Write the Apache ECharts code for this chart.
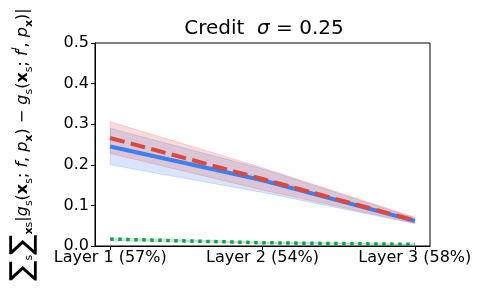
<!DOCTYPE html>
<html>
<head>
<meta charset="utf-8">
<script src="https://cdn.jsdelivr.net/npm/echarts@6/dist/echarts.min.js"></script>
<style>html,body{margin:0;padding:0;background:#fff}#c{width:488px;height:293px}</style>
</head>
<body>
<div id="c"></div>
<script>
const categories = ['Layer 1 (57%)', 'Layer 2 (54%)', 'Layer 3 (58%)'];
const yTicks = [0.0, 0.1, 0.2, 0.3, 0.4, 0.5];
const blueMean = [0.245, 0.162, 0.062];
const blueLow  = [0.200, 0.132, 0.055];
const blueHigh = [0.290, 0.190, 0.069];
const redMean  = [0.266, 0.165, 0.063];
const redLow   = [0.228, 0.138, 0.056];
const redHigh  = [0.306, 0.193, 0.071];
const greenMean = [0.017, 0.008, 0.004];
const greenLow  = [0.014, 0.006, 0.003];
const greenHigh = [0.020, 0.010, 0.005];

const xs = categories.map((c, i) => i);
const pts = arr => arr.map((v, i) => [i, v]);

function band(low, high, color) {
  return {
    type: 'custom',
    silent: true,
    data: [0],
    z: 1,
    renderItem: function (params, api) {
      const top = high.map((v, i) => api.coord([i, v]));
      const bot = low.map((v, i) => api.coord([i, v])).reverse();
      return {
        type: 'polygon',
        shape: { points: top.concat(bot) },
        style: { fill: color, stroke: color, lineWidth: 1, opacity: 1 }
      };
    }
  };
}

const F = 'DejaVu Sans';
const chart = echarts.init(document.getElementById('c'));
chart.setOption({
  animation: false,
  title: {
    text: 'Credit  {i|σ} = 0.25',
    left: 259, top: 14, textAlign: 'center',
    textStyle: { fontFamily: F, fontSize: 20, fontWeight: 'normal', color: '#000',
      rich: { i: { fontFamily: F, fontSize: 20, fontStyle: 'italic', color: '#000' } } }
  },
  grid: { left: 95, right: 58, top: 43, bottom: 47, show: true, borderColor: '#000', borderWidth: 1 },
  xAxis: {
    type: 'value', min: -0.1, max: 2.1,
    splitLine: { show: false },
    axisLine: { onZero: false, lineStyle: { color: '#000', width: 1 } },
    axisTick: { show: true, length: 4, inside: false, customValues: xs, lineStyle: { color: '#000' } },
    axisLabel: { customValues: xs, formatter: v => categories[Math.round(v)], color: '#000',
      fontFamily: F, fontSize: 16, margin: 4 }
  },
  yAxis: {
    type: 'value', min: 0, max: 0.5, interval: 0.1,
    splitLine: { show: false },
    axisLine: { show: true, onZero: false, lineStyle: { color: '#000', width: 1 } },
    axisTick: { show: true, length: 4, lineStyle: { color: '#000' } },
    axisLabel: { formatter: v => v.toFixed(1), color: '#000', fontFamily: F, fontSize: 16, margin: 6 },
    name: '{big|∑}{sub|s}{big|∑}{subb|x}{sub|s}{n||}{i|g}{sub|s}{n|(}{b|x}{sub|s}{n|; }{i|f}{n|, }{i|p}{subb|x}{n|) − }{i|g}{sub|s}{n|(}{b|x}{sub|s}{n|; }{i|f}{sup|l}{n|, }{i|p}{subb|x}{n|)|}',
    nameLocation: 'middle', nameRotate: 90, nameGap: 58,
    nameTextStyle: {
      color: '#000', fontFamily: F, fontSize: 16,
      rich: {
        n: { fontFamily: F, fontSize: 16, color: '#000', lineHeight: 28, verticalAlign: 'middle' },
        i: { fontFamily: F, fontSize: 16, fontStyle: 'italic', color: '#000', lineHeight: 28, verticalAlign: 'middle' },
        b: { fontFamily: F, fontSize: 16, fontWeight: 'bold', color: '#000', lineHeight: 28, verticalAlign: 'middle' },
        big: { fontFamily: F, fontSize: 30, color: '#000', lineHeight: 28, verticalAlign: 'middle' },
        sub: { fontFamily: F, fontSize: 11, color: '#000', lineHeight: 28, verticalAlign: 'bottom', padding: [0, 0, 2, 0] },
        subb: { fontFamily: F, fontSize: 11, fontWeight: 'bold', color: '#000', lineHeight: 28, verticalAlign: 'bottom', padding: [0, 0, 2, 0] },
        sup: { fontFamily: F, fontSize: 11, fontStyle: 'italic', color: '#000', lineHeight: 28, verticalAlign: 'top', padding: [2, 0, 0, 0] }
      }
    }
  },
  series: [
    band(blueLow, blueHigh, 'rgba(59,125,240,0.2)'),
    band(redLow, redHigh, 'rgba(224,72,58,0.2)'),
    band(greenLow, greenHigh, 'rgba(26,154,80,0.2)'),
    { type: 'line', data: pts(blueMean), showSymbol: false, z: 3,
      lineStyle: { color: '#3b7ff0', width: 4, cap: 'butt' } },
    { type: 'line', data: pts(redMean), showSymbol: false, z: 4,
      lineStyle: { color: '#e0463a', width: 4, type: [14.8, 6.4], cap: 'butt' } },
    { type: 'line', data: pts(greenMean), showSymbol: false, z: 4,
      lineStyle: { color: '#15a050', width: 3.5, type: [3.5, 4.5], cap: 'butt' } }
  ]
});
</script>
</body>
</html>
